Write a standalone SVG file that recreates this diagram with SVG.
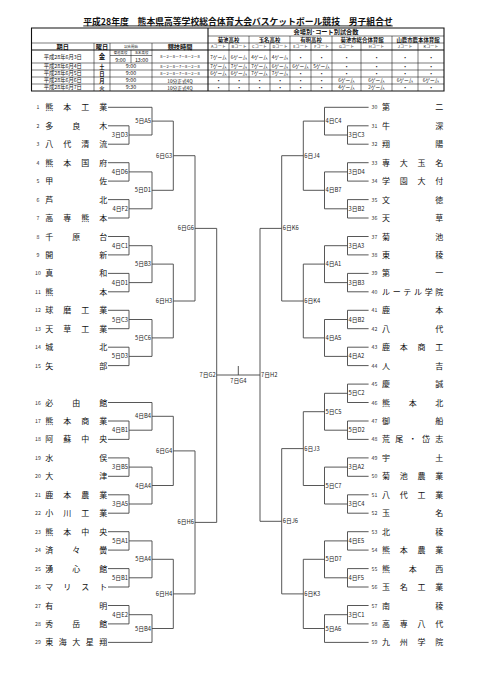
<svg xmlns="http://www.w3.org/2000/svg" width="480" height="680" viewBox="0 0 480 680">
<style>
text{font-family:"Noto Sans CJK JP","Noto Sans",sans-serif;fill:#111}
.ti{font-size:8.8px;font-weight:700;text-anchor:middle;text-decoration:underline}
.tl{fill:none;stroke:#222;stroke-width:0.6}
.tb{fill:none;stroke:#111;stroke-width:1.1}
.hd{font-size:6.2px;font-weight:700;text-anchor:middle}
.vn{font-size:5.4px;font-weight:700;text-anchor:middle}
.ct{font-size:4.1px;text-anchor:middle}
.dt{font-size:5.3px;text-anchor:middle}
.dw{font-size:5.3px;font-weight:700;text-anchor:middle}
.tm{font-size:5.3px;text-anchor:middle}
.sm{font-size:3.4px;text-anchor:middle}
.kt{font-size:4px;text-anchor:middle}
.gm{font-size:4.7px;text-anchor:middle}
.bu{font-size:5px;text-anchor:middle}
.n{font-size:5.2px;text-anchor:middle;fill:#333}
.m{font-size:8px;text-anchor:middle}
.ll{font-size:5.8px;text-anchor:end;fill:#222}
.lr{font-size:5.8px;text-anchor:start;fill:#222}
.lc{font-size:5.8px;text-anchor:middle;fill:#222}
.br{fill:none;stroke:#444;stroke-width:0.9}
</style>
<rect width="480" height="680" fill="#fff"/>
<text class="ti" x="238" y="24.5">平成28年度　熊本県高等学校総合体育大会バスケットボール競技　男子組合せ</text>
<g id="schedule">
<path class="tl" d="M208 36H444M31 43H444M31 63H444M31 70H444M31 77H444M31 84H444M94 43V91M110 43V91M152 43V91M229 43V91M270 43V91M311 43V91M361 43V91M418 43V91M249 36V91M290 36V91M332 36V91M392 36V91M131 50V63M110 55.5H152"/>
<path class="tb" d="M31.5 28H444V91H31.5ZM31.5 50H444M208 28V91"/>
<text class="hd" x="326" y="34.3">会場別･コート別試合数</text>
<text class="vn" x="228.5" y="41.6">菊池高校</text>
<text class="vn" x="269.5" y="41.6">玉名高校</text>
<text class="vn" x="311" y="41.6">有明高校</text>
<text class="vn" x="362" y="41.6">菊池市総合体育館</text>
<text class="vn" x="418" y="41.6">山鹿市鹿本体育館</text>
<text class="hd" x="62.8" y="48.7">期日</text>
<text class="hd" x="102" y="48.7">曜日</text>
<text class="sm" x="131" y="48">試合開始</text>
<text class="hd" x="180" y="48.7">競技時間</text>
<text class="ct" x="218.5" y="48.4">Aコート</text>
<text class="ct" x="239" y="48.4">Bコート</text>
<text class="ct" x="259.5" y="48.4">Cコート</text>
<text class="ct" x="280" y="48.4">Dコート</text>
<text class="ct" x="300.5" y="48.4">Eコート</text>
<text class="ct" x="321.5" y="48.4">Fコート</text>
<text class="ct" x="346.5" y="48.4">Gコート</text>
<text class="ct" x="376.5" y="48.4">Hコート</text>
<text class="ct" x="405" y="48.4">Jコート</text>
<text class="ct" x="431" y="48.4">Kコート</text>
<text class="dt" x="62.8" y="58.6">平成28年6月3日</text>
<text class="dt" x="62.8" y="68.4">平成28年6月4日</text>
<text class="dt" x="62.8" y="75.4">平成28年6月5日</text>
<text class="dt" x="62.8" y="82.4">平成28年6月6日</text>
<text class="dt" x="62.8" y="89.4">平成28年6月7日</text>
<text class="dw" x="102" y="59" style="font-size:6.5px">金</text>
<text class="dw" x="102" y="68.5">土</text>
<text class="dw" x="102" y="75.5">日</text>
<text class="dw" x="102" y="82.5">月</text>
<text class="dw" x="102" y="89.5">火</text>
<text class="sm" x="120.5" y="54.3">菊池高校</text>
<text class="sm" x="141.5" y="54.3">玉名高校</text>
<text class="tm" x="120.5" y="61.5">9:00</text>
<text class="tm" x="141.5" y="61.5">13:00</text>
<text class="tm" x="131" y="68.4">9:00</text>
<text class="tm" x="131" y="75.4">9:00</text>
<text class="tm" x="131" y="82.4">9:00</text>
<text class="tm" x="131" y="89.4">9:30</text>
<text class="kt" x="180" y="58.4">8－2－8－7－8－2－8</text>
<text class="kt" x="180" y="68.2">8－2－8－7－8－2－8</text>
<text class="kt" x="180" y="75.2">8－2－8－7－8－2－8</text>
<text class="gm" x="180" y="82.5">10分正式4Q</text>
<text class="gm" x="180" y="89.5">10分正式4Q</text>
<text class="gm" x="218.5" y="58.5">7ゲーム</text><text class="gm" x="239" y="58.5">6ゲーム</text><text class="gm" x="259.5" y="58.5">4ゲーム</text><text class="gm" x="280" y="58.5">4ゲーム</text><text class="bu" x="300.5" y="58.5">•</text><text class="bu" x="321.5" y="58.5">•</text><text class="bu" x="346.5" y="58.5">•</text><text class="bu" x="376.5" y="58.5">•</text><text class="bu" x="405" y="58.5">•</text><text class="bu" x="431" y="58.5">•</text>
<text class="gm" x="218.5" y="68.4">7ゲーム</text><text class="gm" x="239" y="68.4">7ゲーム</text><text class="gm" x="259.5" y="68.4">7ゲーム</text><text class="gm" x="280" y="68.4">6ゲーム</text><text class="gm" x="300.5" y="68.4">6ゲーム</text><text class="gm" x="321.5" y="68.4">5ゲーム</text><text class="bu" x="346.5" y="68.4">•</text><text class="bu" x="376.5" y="68.4">•</text><text class="bu" x="405" y="68.4">•</text><text class="bu" x="431" y="68.4">•</text>
<text class="gm" x="218.5" y="75.4">6ゲーム</text><text class="gm" x="239" y="75.4">6ゲーム</text><text class="gm" x="259.5" y="75.4">7ゲーム</text><text class="gm" x="280" y="75.4">7ゲーム</text><text class="bu" x="300.5" y="75.4">•</text><text class="bu" x="321.5" y="75.4">•</text><text class="bu" x="346.5" y="75.4">•</text><text class="bu" x="376.5" y="75.4">•</text><text class="bu" x="405" y="75.4">•</text><text class="bu" x="431" y="75.4">•</text>
<text class="bu" x="218.5" y="82.4">•</text><text class="bu" x="239" y="82.4">•</text><text class="bu" x="259.5" y="82.4">•</text><text class="bu" x="280" y="82.4">•</text><text class="bu" x="300.5" y="82.4">•</text><text class="bu" x="321.5" y="82.4">•</text><text class="gm" x="346.5" y="82.4">6ゲーム</text><text class="gm" x="376.5" y="82.4">6ゲーム</text><text class="gm" x="405" y="82.4">6ゲーム</text><text class="gm" x="431" y="82.4">6ゲーム</text>
<text class="bu" x="218.5" y="89.4">•</text><text class="bu" x="239" y="89.4">•</text><text class="bu" x="259.5" y="89.4">•</text><text class="bu" x="280" y="89.4">•</text><text class="bu" x="300.5" y="89.4">•</text><text class="bu" x="321.5" y="89.4">•</text><text class="gm" x="346.5" y="89.4">4ゲーム</text><text class="gm" x="376.5" y="89.4">2ゲーム</text><text class="bu" x="405" y="89.4">•</text><text class="bu" x="431" y="89.4">•</text>
</g>
<g id="connectors">
<path class="br" d="M108 107.3H152M108 125.8H129M108 144.2H129M108 162.7H129M108 181.1H129M108 199.6H129M108 218H129M108 236.5H129M108 254.9H129M108 273.4H129M108 291.8H129M108 310.3H129M108 328.7H129M108 347.2H129M108 365.6H129M108 402.5H152M108 421H129M108 439.4H129M108 457.9H129M108 476.3H129M108 494.8H129M108 513.2H129M108 531.7H129M108 550.1H129M108 568.6H129M108 587H129M108 605.5H129M108 623.9H129M108 642.4H152"/>
<path class="br" d="M129 125.8V144.2M129 135H152M129 162.7V181.1M129 171.9H152M129 199.6V218M129 208.8H152M152 107.3V135M152 121.1H173.3M152 171.9V208.8M152 190.3H173.3M173.3 121.1V190.3M173.3 155.7H195M129 236.5V254.9M129 245.7H152M129 273.4V291.8M129 282.6H152M152 245.7V282.6M152 264.1H173.3M129 310.3V328.7M129 319.5H152M129 347.2V365.6M129 356.4H152M152 319.5V356.4M152 337.9H173.3M173.3 264.1V337.9M173.3 301H195M195 155.7V301M195 228.4H216.7M129 421V439.4M129 430.2H152M152 402.5V430.2M152 416.3H173.3M129 457.9V476.3M129 467.1H152M129 494.8V513.2M129 504H152M152 467.1V504M152 485.5H173.3M173.3 416.3V485.5M173.3 450.9H195M129 531.7V550.1M129 540.9H152M129 568.6V587M129 577.8H152M152 540.9V577.8M152 559.3H173.3M129 605.5V623.9M129 614.7H152M152 614.7V642.4M152 628.5H173.3M173.3 559.3V628.5M173.3 593.9H195M195 450.9V593.9M195 522.4H216.7M216.7 228.4V522.4M216.7 375H260M238.3 366V375"/>
<path class="br" d="M368.6 107.3H324.5M368.6 125.8H347.5M368.6 144.2H347.5M368.6 162.7H347.5M368.6 181.1H347.5M368.6 199.6H347.5M368.6 218H347.5M368.6 236.5H347.5M368.6 254.9H347.5M368.6 273.4H347.5M368.6 291.8H347.5M368.6 310.3H347.5M368.6 328.7H347.5M368.6 347.2H347.5M368.6 365.6H347.5M368.6 384.1H347.5M368.6 402.5H347.5M368.6 421H347.5M368.6 439.4H347.5M368.6 457.9H347.5M368.6 476.3H347.5M368.6 494.8H347.5M368.6 513.2H347.5M368.6 531.7H347.5M368.6 550.1H347.5M368.6 568.6H347.5M368.6 587H347.5M368.6 605.5H347.5M368.6 623.9H347.5M368.6 642.4H324.5"/>
<path class="br" d="M347.5 125.8V144.2M347.5 135H324.5M324.5 107.3V135M324.5 121.1H303.3M347.5 162.7V181.1M347.5 171.9H324.5M347.5 199.6V218M347.5 208.8H324.5M324.5 171.9V208.8M324.5 190.3H303.3M303.3 121.1V190.3M303.3 155.7H281.7M347.5 236.5V254.9M347.5 245.7H324.5M347.5 273.4V291.8M347.5 282.6H324.5M324.5 245.7V282.6M324.5 264.1H303.3M347.5 310.3V328.7M347.5 319.5H324.5M347.5 347.2V365.6M347.5 356.4H324.5M324.5 319.5V356.4M324.5 337.9H303.3M303.3 264.1V337.9M303.3 301H281.7M281.7 155.7V301M281.7 228.4H260M347.5 384.1V402.5M347.5 393.3H324.5M347.5 421V439.4M347.5 430.2H324.5M324.5 393.3V430.2M324.5 411.7H303.3M347.5 457.9V476.3M347.5 467.1H324.5M347.5 494.8V513.2M347.5 504H324.5M324.5 467.1V504M324.5 485.5H303.3M303.3 411.7V485.5M303.3 448.6H281.7M347.5 531.7V550.1M347.5 540.9H324.5M347.5 568.6V587M347.5 577.8H324.5M324.5 540.9V577.8M324.5 559.3H303.3M347.5 605.5V623.9M347.5 614.7H324.5M324.5 614.7V642.4M324.5 628.5H303.3M303.3 559.3V628.5M303.3 593.9H281.7M281.7 448.6V593.9M281.7 521.3H260M260 228.4V521.3"/>
<text class="ll" x="128" y="137">3日D3</text>
<text class="ll" x="128" y="173.9">4日D6</text>
<text class="ll" x="128" y="210.8">4日F2</text>
<text class="ll" x="151" y="123.1">5日A5</text>
<text class="ll" x="151" y="192.3">5日D1</text>
<text class="ll" x="172.3" y="157.7">6日G3</text>
<text class="ll" x="128" y="247.7">4日C1</text>
<text class="ll" x="128" y="284.6">4日D1</text>
<text class="ll" x="151" y="266.1">5日B3</text>
<text class="ll" x="128" y="321.5">5日C3</text>
<text class="ll" x="128" y="358.4">5日D3</text>
<text class="ll" x="151" y="339.9">5日C6</text>
<text class="ll" x="172.3" y="303">6日H3</text>
<text class="ll" x="194" y="230.4">6日G6</text>
<text class="ll" x="128" y="432.2">4日B1</text>
<text class="ll" x="151" y="418.3">4日B4</text>
<text class="ll" x="128" y="469.1">3日B5</text>
<text class="ll" x="128" y="506">3日A5</text>
<text class="ll" x="151" y="487.5">4日A4</text>
<text class="ll" x="172.3" y="452.9">6日G4</text>
<text class="ll" x="128" y="542.9">5日A1</text>
<text class="ll" x="128" y="579.8">5日B1</text>
<text class="ll" x="151" y="561.3">5日A4</text>
<text class="ll" x="128" y="616.7">4日E2</text>
<text class="ll" x="151" y="630.5">5日B4</text>
<text class="ll" x="172.3" y="595.9">6日H4</text>
<text class="ll" x="194" y="524.4">6日H6</text>
<text class="ll" x="215.7" y="377">7日G2</text>
<text class="lc" x="238.3" y="382.5">7日G4</text>
<text class="lr" x="261" y="377">7日H2</text>
<text class="lr" x="348.5" y="137">3日C3</text>
<text class="lr" x="325.5" y="123.1">4日C4</text>
<text class="lr" x="348.5" y="173.9">3日D4</text>
<text class="lr" x="348.5" y="210.8">3日B2</text>
<text class="lr" x="325.5" y="192.3">4日B7</text>
<text class="lr" x="304.3" y="157.7">6日J4</text>
<text class="lr" x="348.5" y="247.7">3日A3</text>
<text class="lr" x="348.5" y="284.6">3日B3</text>
<text class="lr" x="325.5" y="266.1">4日A1</text>
<text class="lr" x="348.5" y="321.5">4日B2</text>
<text class="lr" x="348.5" y="358.4">4日A2</text>
<text class="lr" x="325.5" y="339.9">4日A5</text>
<text class="lr" x="304.3" y="303">6日K4</text>
<text class="lr" x="282.7" y="230.4">6日K6</text>
<text class="lr" x="348.5" y="395.3">5日C2</text>
<text class="lr" x="348.5" y="432.2">5日D2</text>
<text class="lr" x="325.5" y="413.7">5日C5</text>
<text class="lr" x="348.5" y="469.1">3日A2</text>
<text class="lr" x="348.5" y="506">3日C4</text>
<text class="lr" x="325.5" y="487.5">5日C7</text>
<text class="lr" x="304.3" y="450.6">6日J3</text>
<text class="lr" x="348.5" y="542.9">4日E5</text>
<text class="lr" x="348.5" y="579.8">4日F5</text>
<text class="lr" x="325.5" y="561.3">5日D7</text>
<text class="lr" x="348.5" y="616.7">3日C1</text>
<text class="lr" x="325.5" y="630.5">5日A6</text>
<text class="lr" x="304.3" y="595.9">6日K3</text>
<text class="lr" x="282.7" y="523.3">6日J6</text>
</g>
<g id="t1" transform="translate(0,107.3)"><text class="n" x="38" y="2">1</text><text class="m" x="49.3 67.3 85.3 103.3" y="3">熊本工業</text></g>
<g id="t2" transform="translate(0,125.8)"><text class="n" x="38" y="2">2</text><text class="m" x="49.3 76.3 103.3" y="3">多良木</text></g>
<g id="t3" transform="translate(0,144.2)"><text class="n" x="38" y="2">3</text><text class="m" x="49.3 67.3 85.3 103.3" y="3">八代清流</text></g>
<g id="t4" transform="translate(0,162.7)"><text class="n" x="38" y="2">4</text><text class="m" x="49.3 67.3 85.3 103.3" y="3">熊本国府</text></g>
<g id="t5" transform="translate(0,181.1)"><text class="n" x="38" y="2">5</text><text class="m" x="49.3 103.3" y="3">甲佐</text></g>
<g id="t6" transform="translate(0,199.6)"><text class="n" x="38" y="2">6</text><text class="m" x="49.3 103.3" y="3">芦北</text></g>
<g id="t7" transform="translate(0,218)"><text class="n" x="38" y="2">7</text><text class="m" x="49.3 67.3 85.3 103.3" y="3">高専熊本</text></g>
<g id="t8" transform="translate(0,236.5)"><text class="n" x="38" y="2">8</text><text class="m" x="49.3 76.3 103.3" y="3">千原台</text></g>
<g id="t9" transform="translate(0,254.9)"><text class="n" x="38" y="2">9</text><text class="m" x="49.3 103.3" y="3">開新</text></g>
<g id="t10" transform="translate(0,273.4)"><text class="n" x="38" y="2">10</text><text class="m" x="49.3 103.3" y="3">真和</text></g>
<g id="t11" transform="translate(0,291.8)"><text class="n" x="38" y="2">11</text><text class="m" x="49.3 103.3" y="3">熊本</text></g>
<g id="t12" transform="translate(0,310.3)"><text class="n" x="38" y="2">12</text><text class="m" x="49.3 67.3 85.3 103.3" y="3">球磨工業</text></g>
<g id="t13" transform="translate(0,328.7)"><text class="n" x="38" y="2">13</text><text class="m" x="49.3 67.3 85.3 103.3" y="3">天草工業</text></g>
<g id="t14" transform="translate(0,347.2)"><text class="n" x="38" y="2">14</text><text class="m" x="49.3 103.3" y="3">城北</text></g>
<g id="t15" transform="translate(0,365.6)"><text class="n" x="38" y="2">15</text><text class="m" x="49.3 103.3" y="3">矢部</text></g>
<g id="t16" transform="translate(0,402.5)"><text class="n" x="38" y="2">16</text><text class="m" x="49.3 76.3 103.3" y="3">必由館</text></g>
<g id="t17" transform="translate(0,421)"><text class="n" x="38" y="2">17</text><text class="m" x="49.3 67.3 85.3 103.3" y="3">熊本商業</text></g>
<g id="t18" transform="translate(0,439.4)"><text class="n" x="38" y="2">18</text><text class="m" x="49.3 67.3 85.3 103.3" y="3">阿蘇中央</text></g>
<g id="t19" transform="translate(0,457.9)"><text class="n" x="38" y="2">19</text><text class="m" x="49.3 103.3" y="3">水俣</text></g>
<g id="t20" transform="translate(0,476.3)"><text class="n" x="38" y="2">20</text><text class="m" x="49.3 103.3" y="3">大津</text></g>
<g id="t21" transform="translate(0,494.8)"><text class="n" x="38" y="2">21</text><text class="m" x="49.3 67.3 85.3 103.3" y="3">鹿本農業</text></g>
<g id="t22" transform="translate(0,513.2)"><text class="n" x="38" y="2">22</text><text class="m" x="49.3 67.3 85.3 103.3" y="3">小川工業</text></g>
<g id="t23" transform="translate(0,531.7)"><text class="n" x="38" y="2">23</text><text class="m" x="49.3 67.3 85.3 103.3" y="3">熊本中央</text></g>
<g id="t24" transform="translate(0,550.1)"><text class="n" x="38" y="2">24</text><text class="m" x="49.3 76.3 103.3" y="3">済々黌</text></g>
<g id="t25" transform="translate(0,568.6)"><text class="n" x="38" y="2">25</text><text class="m" x="49.3 76.3 103.3" y="3">湧心館</text></g>
<g id="t26" transform="translate(0,587)"><text class="n" x="38" y="2">26</text><text class="m" x="49.3 67.3 85.3 103.3" y="3">マリスト</text></g>
<g id="t27" transform="translate(0,605.5)"><text class="n" x="38" y="2">27</text><text class="m" x="49.3 103.3" y="3">有明</text></g>
<g id="t28" transform="translate(0,623.9)"><text class="n" x="38" y="2">28</text><text class="m" x="49.3 76.3 103.3" y="3">秀岳館</text></g>
<g id="t29" transform="translate(0,642.4)"><text class="n" x="38" y="2">29</text><text class="m" x="49.3 62.8 76.3 89.8 103.3" y="3">東海大星翔</text></g>
<g id="t30" transform="translate(0,107.3)"><text class="n" x="374.5" y="2">30</text><text class="m" x="386 439.3" y="3">第二</text></g>
<g id="t31" transform="translate(0,125.8)"><text class="n" x="374.5" y="2">31</text><text class="m" x="386 439.3" y="3">牛深</text></g>
<g id="t32" transform="translate(0,144.2)"><text class="n" x="374.5" y="2">32</text><text class="m" x="386 439.3" y="3">翔陽</text></g>
<g id="t33" transform="translate(0,162.7)"><text class="n" x="374.5" y="2">33</text><text class="m" x="386 403.8 421.5 439.3" y="3">専大玉名</text></g>
<g id="t34" transform="translate(0,181.1)"><text class="n" x="374.5" y="2">34</text><text class="m" x="386 403.8 421.5 439.3" y="3">学園大付</text></g>
<g id="t35" transform="translate(0,199.6)"><text class="n" x="374.5" y="2">35</text><text class="m" x="386 439.3" y="3">文徳</text></g>
<g id="t36" transform="translate(0,218)"><text class="n" x="374.5" y="2">36</text><text class="m" x="386 439.3" y="3">天草</text></g>
<g id="t37" transform="translate(0,236.5)"><text class="n" x="374.5" y="2">37</text><text class="m" x="386 439.3" y="3">菊池</text></g>
<g id="t38" transform="translate(0,254.9)"><text class="n" x="374.5" y="2">38</text><text class="m" x="386 439.3" y="3">東稜</text></g>
<g id="t39" transform="translate(0,273.4)"><text class="n" x="374.5" y="2">39</text><text class="m" x="386 439.3" y="3">第一</text></g>
<g id="t40" transform="translate(0,291.8)"><text class="n" x="374.5" y="2">40</text><text class="m" x="386 396.7 407.3 418 428.7 439.3" y="3">ルーテル学院</text></g>
<g id="t41" transform="translate(0,310.3)"><text class="n" x="374.5" y="2">41</text><text class="m" x="386 439.3" y="3">鹿本</text></g>
<g id="t42" transform="translate(0,328.7)"><text class="n" x="374.5" y="2">42</text><text class="m" x="386 439.3" y="3">八代</text></g>
<g id="t43" transform="translate(0,347.2)"><text class="n" x="374.5" y="2">43</text><text class="m" x="386 403.8 421.5 439.3" y="3">鹿本商工</text></g>
<g id="t44" transform="translate(0,365.6)"><text class="n" x="374.5" y="2">44</text><text class="m" x="386 439.3" y="3">人吉</text></g>
<g id="t45" transform="translate(0,384.1)"><text class="n" x="374.5" y="2">45</text><text class="m" x="386 439.3" y="3">慶誠</text></g>
<g id="t46" transform="translate(0,402.5)"><text class="n" x="374.5" y="2">46</text><text class="m" x="386 412.7 439.3" y="3">熊本北</text></g>
<g id="t47" transform="translate(0,421)"><text class="n" x="374.5" y="2">47</text><text class="m" x="386 439.3" y="3">御船</text></g>
<g id="t48" transform="translate(0,439.4)"><text class="n" x="374.5" y="2">48</text><text class="m" x="386 399.3 412.7 426 439.3" y="3">荒尾・岱志</text></g>
<g id="t49" transform="translate(0,457.9)"><text class="n" x="374.5" y="2">49</text><text class="m" x="386 439.3" y="3">宇土</text></g>
<g id="t50" transform="translate(0,476.3)"><text class="n" x="374.5" y="2">50</text><text class="m" x="386 403.8 421.5 439.3" y="3">菊池農業</text></g>
<g id="t51" transform="translate(0,494.8)"><text class="n" x="374.5" y="2">51</text><text class="m" x="386 403.8 421.5 439.3" y="3">八代工業</text></g>
<g id="t52" transform="translate(0,513.2)"><text class="n" x="374.5" y="2">52</text><text class="m" x="386 439.3" y="3">玉名</text></g>
<g id="t53" transform="translate(0,531.7)"><text class="n" x="374.5" y="2">53</text><text class="m" x="386 439.3" y="3">北稜</text></g>
<g id="t54" transform="translate(0,550.1)"><text class="n" x="374.5" y="2">54</text><text class="m" x="386 403.8 421.5 439.3" y="3">熊本農業</text></g>
<g id="t55" transform="translate(0,568.6)"><text class="n" x="374.5" y="2">55</text><text class="m" x="386 412.7 439.3" y="3">熊本西</text></g>
<g id="t56" transform="translate(0,587)"><text class="n" x="374.5" y="2">56</text><text class="m" x="386 403.8 421.5 439.3" y="3">玉名工業</text></g>
<g id="t57" transform="translate(0,605.5)"><text class="n" x="374.5" y="2">57</text><text class="m" x="386 439.3" y="3">南稜</text></g>
<g id="t58" transform="translate(0,623.9)"><text class="n" x="374.5" y="2">58</text><text class="m" x="386 403.8 421.5 439.3" y="3">高専八代</text></g>
<g id="t59" transform="translate(0,642.4)"><text class="n" x="374.5" y="2">59</text><text class="m" x="386 403.8 421.5 439.3" y="3">九州学院</text></g>
</svg>
